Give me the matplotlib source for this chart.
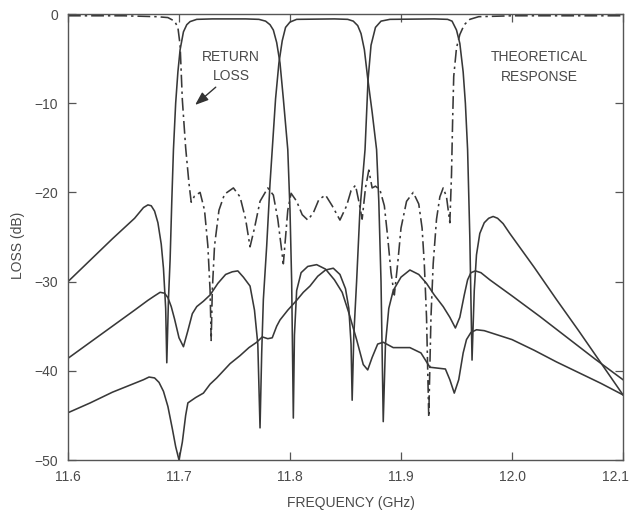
import matplotlib
matplotlib.use("Agg")
import matplotlib.pyplot as plt
from matplotlib.transforms import ScaledTranslation

plt.rcParams['font.family'] = ['Liberation Sans', 'DejaVu Sans']

# ---------------- data ----------------
ch1_freq = [11.600, 11.620, 11.640, 11.660, 11.664, 11.668, 11.672, 11.675, 11.678, 11.681,
            11.684, 11.686, 11.688, 11.689, 11.6905, 11.692, 11.6935, 11.695, 11.697, 11.699,
            11.701, 11.704, 11.707, 11.710, 11.716, 11.730, 11.760, 11.772, 11.778, 11.782,
            11.785, 11.788, 11.791, 11.794, 11.798, 11.800, 11.8015, 11.803, 11.804, 11.806,
            11.810, 11.816, 11.824, 11.832, 11.840, 11.847, 11.853, 11.860, 11.866, 11.870,
            11.874, 11.879, 11.884, 11.893, 11.908, 11.918, 11.926, 11.940, 11.944, 11.948,
            11.952, 11.956, 11.959, 11.963, 11.968, 11.975, 11.985, 12.000, 12.020, 12.040,
            12.060, 12.080, 12.100]
ch1_loss = [-30.0, -27.6, -25.2, -22.9, -22.3, -21.7, -21.4, -21.5, -22.1, -23.4,
            -25.8, -28.5, -33.0, -39.1, -32.0, -27.5, -21.0, -15.2, -10.0, -6.5,
            -4.0, -2.0, -1.2, -0.85, -0.6, -0.55, -0.55, -0.6, -0.8, -1.2,
            -1.8, -3.2, -5.5, -9.5, -15.2, -22.0, -30.0, -45.3, -36.0, -31.0,
            -29.0, -28.3, -28.1, -28.6, -29.8, -31.2, -33.5, -36.5, -39.3, -39.9,
            -38.5, -37.0, -36.8, -37.4, -37.4, -38.0, -39.6, -39.8, -41.0, -42.5,
            -41.0, -38.0, -36.5, -35.7, -35.4, -35.5, -35.9, -36.5, -37.7, -39.0,
            -40.2, -41.4, -42.7]

ch2_freq = [11.600, 11.620, 11.640, 11.660, 11.672, 11.678, 11.683, 11.687, 11.690, 11.693,
            11.696, 11.700, 11.704, 11.708, 11.712, 11.716, 11.722, 11.728, 11.735, 11.742,
            11.748, 11.753, 11.758, 11.764, 11.768, 11.771, 11.773, 11.7745, 11.776, 11.779,
            11.782, 11.784, 11.787, 11.790, 11.793, 11.796, 11.800, 11.806, 11.840, 11.852,
            11.857, 11.861, 11.864, 11.867, 11.870, 11.874, 11.878, 11.880, 11.882, 11.884,
            11.886, 11.889, 11.893, 11.900, 11.908, 11.916, 11.923, 11.930, 11.938, 11.944,
            11.949, 11.953, 11.957, 11.960, 11.963, 11.967, 11.972, 11.980, 12.000, 12.025,
            12.050, 12.075, 12.100]
ch2_loss = [-38.6, -36.8, -35.0, -33.2, -32.1, -31.6, -31.2, -31.3, -31.8, -32.8,
            -34.2, -36.3, -37.3, -35.5, -33.6, -32.8, -32.2, -31.5, -30.2, -29.2,
            -28.9, -28.8, -29.5, -30.5, -33.2, -37.0, -46.4, -38.0, -32.0, -26.0,
            -19.0, -15.2, -9.5, -5.5, -3.0, -1.5, -0.9, -0.6, -0.55, -0.6,
            -0.8, -1.3, -2.2, -4.0, -7.2, -11.0, -15.2, -21.0, -30.0, -45.7,
            -37.0, -33.0, -31.0, -29.5, -28.7, -29.2, -30.2, -31.5, -32.8, -34.0,
            -35.2, -34.0, -31.5, -29.8, -29.0, -28.8, -29.0, -29.8, -31.6, -33.9,
            -36.3, -38.7, -41.0]

ch3_freq = [11.600, 11.620, 11.640, 11.660, 11.668, 11.673, 11.678, 11.682, 11.686, 11.690,
            11.694, 11.697, 11.700, 11.703, 11.706, 11.708, 11.715, 11.722, 11.728, 11.734,
            11.740, 11.746, 11.755, 11.763, 11.770, 11.775, 11.780, 11.784, 11.788, 11.791,
            11.798, 11.806, 11.812, 11.818, 11.825, 11.832, 11.839, 11.845, 11.850, 11.853,
            11.855, 11.856, 11.8575, 11.860, 11.863, 11.8676, 11.8703, 11.873, 11.877, 11.882,
            11.890, 11.930, 11.942, 11.946, 11.950, 11.953, 11.956, 11.958, 11.960, 11.962,
            11.963, 11.964, 11.966, 11.968, 11.971, 11.975, 11.979, 11.983, 11.987, 11.992,
            11.998, 12.020, 12.040, 12.060, 12.080, 12.100]
ch3_loss = [-44.7, -43.6, -42.4, -41.4, -41.0, -40.7, -40.8, -41.3, -42.3, -44.0,
            -46.5, -48.5, -50.0, -48.0, -45.0, -43.6, -43.0, -42.5, -41.5, -40.8,
            -40.0, -39.2, -38.3, -37.4, -36.8, -36.2, -36.4, -36.3, -35.0, -34.3,
            -33.2, -32.1, -31.2, -30.5, -29.4, -28.7, -28.5, -29.2, -30.8, -33.0,
            -37.0, -43.3, -36.0, -30.0, -22.0, -15.2, -7.4, -3.5, -1.5, -0.8,
            -0.6, -0.55, -0.6, -0.8, -1.8, -3.3, -6.5, -10.0, -15.2, -25.0,
            -32.0, -38.8, -31.0, -27.0, -24.6, -23.4, -22.9, -22.7, -22.9, -23.5,
            -24.6, -28.4, -32.0, -35.5, -39.1, -42.7]

rl_freq = [11.600, 11.650, 11.680, 11.690, 11.696, 11.699, 11.701, 11.703, 11.706, 11.709,
           11.711, 11.714, 11.719, 11.723, 11.726, 11.728, 11.729, 11.730, 11.732, 11.736,
           11.741, 11.749, 11.755, 11.760, 11.764, 11.768, 11.773, 11.780, 11.785, 11.789,
           11.792, 11.794, 11.796, 11.798, 11.801, 11.806, 11.811, 11.816, 11.821, 11.826,
           11.832, 11.838, 11.845, 11.851, 11.855, 11.859, 11.862, 11.865, 11.868, 11.871,
           11.874, 11.877, 11.881, 11.885, 11.888, 11.891, 11.894, 11.897, 11.900, 11.905,
           11.911, 11.916, 11.919, 11.921, 11.923, 11.925, 11.927, 11.929, 11.932, 11.935,
           11.938, 11.941, 11.944, 11.9455, 11.9465, 11.9475, 11.950, 11.953, 11.957, 11.962,
           11.970, 12.000, 12.050, 12.100]
rl_loss = [-0.2, -0.2, -0.3, -0.4, -0.8, -1.5, -3.5, -9.6, -15.0, -19.0,
           -21.1, -20.4, -20.0, -22.0, -26.0, -31.0, -36.6, -31.0, -26.0, -22.0,
           -20.2, -19.5, -20.5, -23.0, -26.1, -24.0, -21.0, -19.5, -20.3, -23.0,
           -26.0, -28.0, -25.0, -22.0, -20.1, -21.0, -22.5, -23.1, -22.3, -20.8,
           -20.3, -21.5, -23.1, -21.5, -19.8, -19.2, -21.0, -23.0, -19.5, -17.5,
           -19.5, -19.3, -19.7, -21.5, -25.0, -29.0, -31.5, -28.0, -24.0, -21.0,
           -20.0, -21.3, -24.0, -28.0, -34.0, -45.2, -34.0, -28.0, -23.0, -20.5,
           -19.5, -20.5, -23.4, -18.0, -12.0, -7.0, -3.8, -2.3, -1.2, -0.6,
           -0.3, -0.2, -0.2, -0.2]

x_ticks = [11.6, 11.7, 11.8, 11.9, 12.0, 12.1]
x_labels = ["11.6", "11.7", "11.8", "11.9", "12.0", "12.1"]
y_ticks = [0, -10, -20, -30, -40, -50]
y_labels = ["0", "\u221210", "\u221220", "\u221230", "\u221240", "\u221250"]

# ---------------- figure ----------------
fig = plt.figure(figsize=(6.31, 5.16), dpi=100)
ax = fig.add_axes([68 / 631, 1 - 460 / 516, 555 / 631, 446 / 516])

line_col = '#383838'
text_col = '#4a4a4a'
for fr, ls in ((ch1_freq, ch1_loss), (ch2_freq, ch2_loss), (ch3_freq, ch3_loss)):
    ax.plot(fr, ls, color=line_col, lw=1.15, solid_joinstyle='round')
ax.plot(rl_freq, rl_loss, color=line_col, lw=1.15,
        linestyle=(0, (8, 2.5, 1.5, 2.5)))

ax.set_xlim(11.6, 12.1)
ax.set_ylim(-50, 0)
ax.set_xticks(x_ticks)
ax.set_xticklabels(x_labels)
ax.set_yticks(y_ticks)
ax.set_yticklabels(y_labels)
ax.tick_params(direction='in', length=6, width=0.9, color='#555555',
               top=True, right=True, labelsize=10, labelcolor=text_col, pad=7)
for s in ax.spines.values():
    s.set_color('#555555')
    s.set_linewidth(1.0)

# last x label sits at the right edge of the figure: keep it inside
last = ax.get_xticklabels()[-1]
last.set_horizontalalignment('right')
last.set_transform(last.get_transform() + ScaledTranslation(6 / 100, 0, fig.dpi_scale_trans))

fig.text(351 / 631, 1 - 503 / 516, "FREQUENCY (GHz)", ha='center', va='center',
         fontsize=10, color=text_col)
fig.text(18 / 631, 1 - 245 / 516, "LOSS (dB)", ha='center', va='center',
         rotation=90, fontsize=10, color=text_col)

ax.text(11.747, -4.8, "RETURN", ha='center', va='center', fontsize=10, color=text_col)
ax.text(11.747, -6.9, "LOSS", ha='center', va='center', fontsize=10, color=text_col)
ax.annotate("", xy=(11.7126, -10.4), xytext=(11.735, -8.0),
            arrowprops=dict(arrowstyle='-|>,head_length=0.8,head_width=0.3',
                            color='#333333', lw=1.0))
ax.text(12.025, -4.8, "THEORETICAL", ha='center', va='center', fontsize=10, color=text_col)
ax.text(12.025, -7.1, "RESPONSE", ha='center', va='center', fontsize=10, color=text_col)

fig.savefig("out.png", dpi=100, facecolor='white')
